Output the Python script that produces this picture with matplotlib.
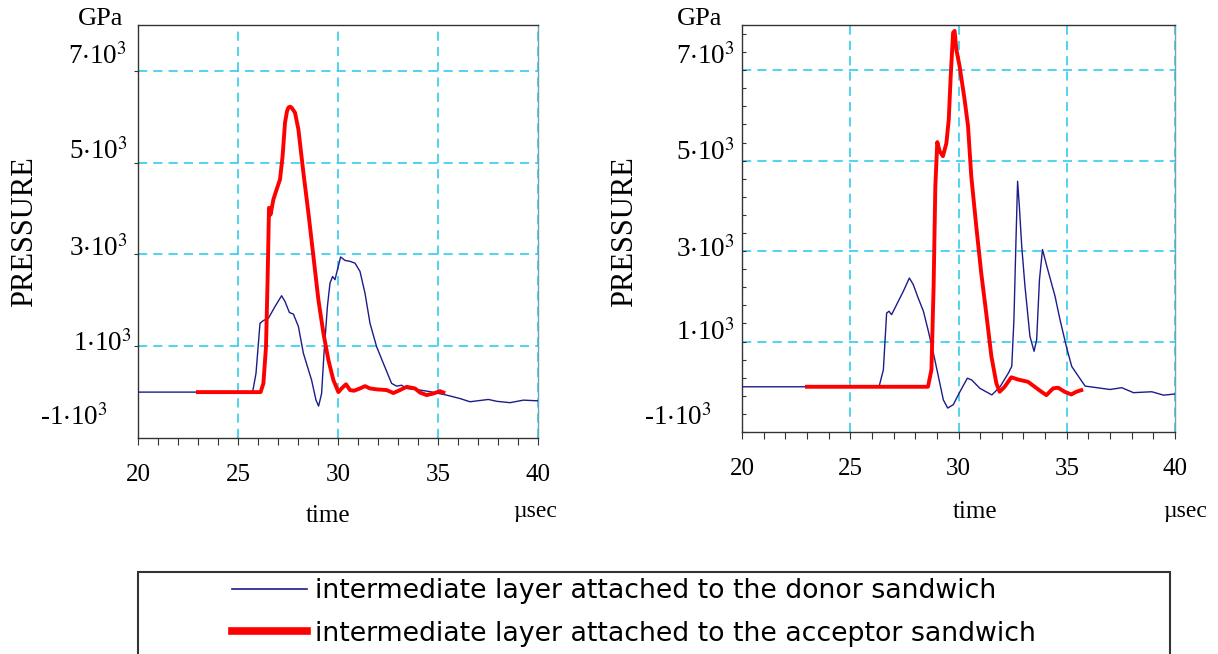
import numpy as np
import matplotlib
matplotlib.use("Agg")
import matplotlib.pyplot as plt
from matplotlib.lines import Line2D
from matplotlib.patches import Rectangle
import matplotlib.transforms as mtransforms
from matplotlib.ticker import FixedLocator, MultipleLocator

# ---------------- data ----------------
# left panel, donor-side intermediate layer (blue)
left_donor_t = [20.0, 25.73, 25.9, 26.1, 26.27, 26.52, 26.85, 27.18, 27.35, 27.57, 27.77,
                28.02, 28.27, 28.68, 28.9, 29.03, 29.18, 29.3, 29.47, 29.6, 29.73, 29.85,
                29.93, 30.13, 30.35, 30.6, 30.85, 31.1, 31.35, 31.6, 31.93, 32.27, 32.68,
                32.93, 33.18, 33.43, 34.1, 34.6, 35.43, 36.1, 36.6, 37.52, 37.93, 38.6,
                39.27, 40.0]
left_donor_p = [0, 0, 409, 1500, 1560, 1610, 1865, 2100, 1975, 1735, 1700,
                1430, 845, 260, -175, -305, -30, 845, 1865, 2375, 2520, 2450,
                2595, 2945, 2870, 2850, 2810, 2630, 2155, 1500, 990, 625, 190,
                130, 150, 80, 45, 10, -65, -140, -210, -160, -200, -230,
                -175, -190]
# left panel, acceptor-side intermediate layer (red)
left_acc_t = [23.0, 26.13, 26.27, 26.4, 26.48, 26.55, 26.63, 26.68, 26.77, 26.93, 27.1,
              27.23, 27.35, 27.45, 27.52, 27.6, 27.68, 27.85, 28.02, 28.27, 28.52, 28.77, 29.02,
              29.27, 29.52, 29.77, 30.02, 30.18, 30.4, 30.6, 30.8, 31.1, 31.35, 31.6,
              31.93, 32.43, 32.77, 33.1, 33.43, 33.85, 34.1, 34.43, 34.77, 35.1, 35.27]
left_acc_p = [0, 0, 190, 990, 2450, 4015, 3870, 3990, 4200, 4415, 4635,
              5145, 5870, 6120, 6200, 6220, 6200, 6090, 5725, 4780, 3905, 2960, 2010,
              1285, 700, 260, 0, 80, 170, 45, 30, 80, 130, 80,
              60, 45, -20, 45, 115, 80, -10, -65, -30, 20, -10]
# right panel, donor-side intermediate layer (blue)
right_donor_t = [20.0, 26.33, 26.53, 26.68, 26.79, 26.91, 27.14, 27.45, 27.73, 27.91, 28.14,
                 28.38, 28.61, 28.84, 29.07, 29.3, 29.5, 29.76, 30.07, 30.41, 30.61, 30.99,
                 31.54, 31.92, 32.3, 32.46, 32.56, 32.66, 32.73, 32.81, 32.92, 33.07, 33.3,
                 33.49, 33.61, 33.74, 33.88, 34.08, 34.46, 34.69, 35.0, 35.23, 35.54, 35.85,
                 36.39, 37.0, 37.54, 38.08, 38.93, 39.47, 40.0]
right_donor_p = [0, 0, 376, 1630, 1670, 1595, 1815, 2110, 2405, 2260, 1960,
                 1670, 1225, 745, 230, -290, -470, -395, -105, 190, 150, -35,
                 -180, 0, 300, 450, 1480, 3330, 4545, 3995, 3110, 2225, 1115,
                 785, 1040, 2370, 3035, 2665, 2000, 1480, 855, 450, 230, 15,
                 -20, -60, -20, -130, -110, -185, -160]
# right panel, acceptor-side intermediate layer (red)
right_acc_t = [23.0, 28.59, 28.75, 28.85, 28.93, 29.02, 29.13, 29.28, 29.44, 29.55, 29.64,
               29.75, 29.82, 29.9, 30.05, 30.28, 30.44, 30.59, 30.82, 31.05, 31.28, 31.52,
               31.75, 31.9, 32.13, 32.44, 32.75, 33.21, 33.52, 33.83, 34.06, 34.37, 34.6,
               34.9, 35.21, 35.44, 35.67]
right_acc_p = [0, 0, 376, 2215, 4435, 5410, 5210, 5100, 5385, 5910, 6870,
               7830, 7870, 7460, 7090, 6355, 5765, 4655, 3550, 2515, 1630, 670,
               75, -110, 0, 210, 160, 110, 0, -110, -185, -35, -20,
               -110, -170, -110, -75]

y_tick_values = [7000, 5000, 3000, 1000, -1000]
y_tick_labels = [r"7$\cdot$10$^{3}$", r"5$\cdot$10$^{3}$", r"3$\cdot$10$^{3}$",
                 r"1$\cdot$10$^{3}$", r"-1$\cdot$10$^{3}$"]
x_tick_values = [20, 25, 30, 35, 40]
x_tick_labels = ["20", "25", "30", "35", "40"]
legend_labels = ["intermediate layer attached to the donor sandwich",
                 "intermediate layer attached to the acceptor sandwich"]

# ---------------- style ----------------
plt.rcParams['font.family'] = ['Liberation Serif', 'DejaVu Serif']
plt.rcParams['mathtext.fontset'] = 'stix'

BLUE = '#1c1c8a'
RED = '#ff0000'
GRID = '#22c8ee'

W, H = 1218, 654
fig = plt.figure(figsize=(W / 100, H / 100), dpi=100)


def axes_px(l, t, r, b):
    return fig.add_axes([l / W, 1 - b / H, (r - l) / W, (b - t) / H])


def style_axes(ax, ylab_dx, ylab_dy, ytick_dir, yminor):
    ax.set_xlim(20, 40)
    ax.set_ylim(-1000, 8000)
    ax.xaxis.set_major_locator(FixedLocator(x_tick_values))
    ax.set_xticklabels(x_tick_labels, fontsize=18)
    ax.xaxis.set_minor_locator(MultipleLocator(1))
    ax.tick_params(axis='x', which='both', direction='out', length=5, width=0.8,
                   pad=14, colors='#333333', labelcolor='black')
    ax.xaxis.grid(True, which='major', color=GRID, linestyle=(0, (6, 4)), linewidth=1.1)
    ax.yaxis.set_major_locator(FixedLocator([v for v in y_tick_values if v > -1000]))
    ax.set_yticklabels([])
    if yminor:
        ax.yaxis.set_minor_locator(FixedLocator(np.arange(-1000, 8001, 400)))
    ax.tick_params(axis='y', which='both', direction=ytick_dir, length=3, width=0.8,
                   colors='#333333')
    ax.yaxis.grid(True, which='major', color=GRID, linestyle=(0, (6, 4)), linewidth=1.1)
    for s in ['left', 'bottom', 'top']:
        ax.spines[s].set_color('#333333')
        ax.spines[s].set_linewidth(1.0)
    ax.spines['right'].set_color('#6aa6b4')
    ax.spines['right'].set_linewidth(1.0)
    blend = mtransforms.blended_transform_factory(ax.transAxes, ax.transData)
    for v, lab, dx, dy in zip(y_tick_values, y_tick_labels, ylab_dx, ylab_dy):
        off = mtransforms.ScaledTranslation(-dx / 100, dy / 100, fig.dpi_scale_trans)
        ax.text(0, v, lab, transform=blend + off, ha='right', va='baseline',
                fontsize=19.5, clip_on=False)


# left panel
axL = axes_px(138, 25, 538, 438)
axL.plot(left_donor_t, left_donor_p, color=BLUE, lw=1.0, zorder=3)
axL.plot(left_acc_t, left_acc_p, color=RED, lw=2.8, zorder=4)
style_axes(axL, [11, 10, 10, 6, 30], [7, 4, -2, -5, 13], 'out', False)

# right panel
axR = axes_px(742, 25, 1175, 432)
axR.plot(right_donor_t, right_donor_p, color=BLUE, lw=1.0, zorder=3)
axR.plot(right_acc_t, right_acc_p, color=RED, lw=2.8, zorder=4)
style_axes(axR, [7, 7, 7, 7, 30], [6, 1, -6, 2, 7], 'in', True)

# axis annotation texts
def ftext(x, y, s, **kw):
    fig.text(x / W, 1 - y / H, s, ha='center', va='center', **kw)

ftext(101, 19, "GPa", fontsize=19)
ftext(700, 19, "GPa", fontsize=19)
ftext(25, 232, "PRESSURE", fontsize=22, rotation=90)
ftext(625, 232, "PRESSURE", fontsize=22, rotation=90)
ftext(328, 516, "time", fontsize=18)
ftext(975, 512, "time", fontsize=18)
ftext(535, 512, "\u00b5sec", fontsize=17)
ftext(1185, 512, "\u00b5sec", fontsize=17)

# legend box (extends below the figure edge, as in the source)
fig.patches.append(Rectangle((138 / W, -20 / H), (1170 - 138) / W, (654 - 572 + 20) / H,
                             transform=fig.transFigure, fill=False,
                             edgecolor='#333333', linewidth=1.5))
h_blue = Line2D([], [], color=BLUE, lw=1.2)
h_red = Line2D([], [], color=RED, lw=5.5)
fig.legend(handles=[h_blue, h_red], labels=legend_labels, loc='upper left',
           bbox_to_anchor=(232 / W, 1 - 578 / H), frameon=False,
           prop={'family': 'DejaVu Sans', 'size': 19.3}, handlelength=2.8,
           handletextpad=0.3, borderpad=0, borderaxespad=0, labelspacing=0.62)

fig.savefig("out.png", dpi=100)
